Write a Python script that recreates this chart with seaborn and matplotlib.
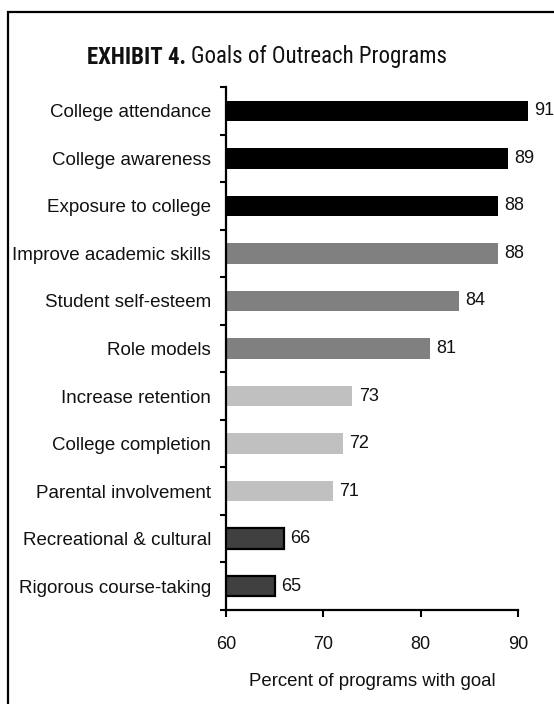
import matplotlib
matplotlib.use("Agg")
import matplotlib.pyplot as plt
from matplotlib.patches import Rectangle
from matplotlib.ticker import FixedLocator
from matplotlib import font_manager
import seaborn as sns
import pandas as pd

goals = [
    "College attendance",
    "College awareness",
    "Exposure to college",
    "Improve academic skills",
    "Student self-esteem",
    "Role models",
    "Increase retention",
    "College completion",
    "Parental involvement",
    "Recreational & cultural",
    "Rigorous course-taking",
]
percent = [91, 89, 88, 88, 84, 81, 73, 72, 71, 66, 65]
tier = ["A", "A", "A", "B", "B", "B", "C", "C", "C", "D", "D"]
tier_colors = {"A": "#000000", "B": "#808080", "C": "#c0c0c0", "D": "#404040"}
xticks = [60, 70, 80, 90]

df = pd.DataFrame({"goal": goals, "percent": percent, "tier": tier})

sns.set_theme(style="white")
plt.rcParams["font.family"] = ["Liberation Sans", "DejaVu Sans"]


def first_installed(candidates):
    for fam in candidates:
        try:
            font_manager.findfont(font_manager.FontProperties(family=fam),
                                  fallback_to_default=False)
            return fam
        except Exception:
            continue
    return "Liberation Sans"


narrow = first_installed(["Liberation Sans Narrow", "Arial Narrow", "Roboto Condensed",
                          "DejaVu Sans Condensed", "Open Sans Condensed"])

W, H = 554, 704
fig = plt.figure(figsize=(W / 100, H / 100), dpi=100)
ax = fig.add_axes([226 / W, 1 - 610 / H, (547 - 226) / W, (610 - 87) / H])

sns.barplot(
    data=df, x="percent", y="goal", hue="tier", palette=tier_colors,
    orient="h", dodge=False, width=0.43, legend=False, ax=ax,
    edgecolor="none", linewidth=0,
)

# dark bars carry a black outline
for bar, t in zip(sorted(ax.patches, key=lambda p: p.get_y()), tier):
    if t == "D":
        bar.set_edgecolor("black")
        bar.set_linewidth(1.6)

for cont in ax.containers:
    ax.bar_label(cont, fmt="%d", padding=4.5, fontsize=13, color="#111111")

ax.set_xlim(60, 93)
ax.set_ylim(len(goals) - 0.5, -0.5)
ax.set_xticks(xticks)
ax.set_xticklabels([str(v) for v in xticks], fontsize=13, color="#111111")
ax.set_xlabel("Percent of programs with goal", fontsize=13.4, color="#111111")
ax.xaxis.set_label_coords(((90 + 60) / 2 - 60) / (93 - 60), -0.121)
ax.set_ylabel("")

ax.yaxis.set_minor_locator(FixedLocator([i - 0.5 for i in range(len(goals) + 1)]))
ax.tick_params(axis="y", which="major", length=0, pad=10.8, labelsize=13.5, labelcolor="#111111")
ax.tick_params(axis="y", which="minor", left=True, length=4, width=1.5, color="black", direction="out")
ax.tick_params(axis="x", which="major", bottom=True, length=5, width=1.5, color="black",
               direction="out", pad=13.5)

for side in ["top", "right"]:
    ax.spines[side].set_visible(False)
for side in ["left", "bottom"]:
    ax.spines[side].set_color("black")
    ax.spines[side].set_linewidth(1.6)
ax.spines["bottom"].set_bounds(60, 90)

# outer frame (runs off the right and bottom edges)
fig.add_artist(Rectangle((8 / W, -0.05), 1.1, 1 - 12 / H + 0.05,
                         transform=fig.transFigure, fill=False,
                         edgecolor="black", linewidth=1.6))

# two-part title: bold exhibit number, then regular description
title_y = 1 - 57 / H
title_left, title_right = 87, 447
size = 18
renderer = fig.canvas.get_renderer()
for _ in range(3):
    t1 = fig.text(title_left / W, title_y, "EXHIBIT 4.", fontsize=size, fontweight="bold",
                  family=[narrow, "Liberation Sans"], ha="left", va="center", color="#111111")
    bb = t1.get_window_extent(renderer)
    t2 = fig.text((bb.x1 + 0.3 * size) / W, title_y, "Goals of Outreach Programs",
                  fontsize=size, family=[narrow, "Liberation Sans"],
                  ha="left", va="center", color="#111111")
    bb2 = t2.get_window_extent(renderer)
    span = bb2.x1 - bb.x0
    target = title_right - title_left
    if abs(span - target) < 4:
        break
    t1.remove()
    t2.remove()
    size = size * target / span

fig.savefig("out.png", dpi=100)
